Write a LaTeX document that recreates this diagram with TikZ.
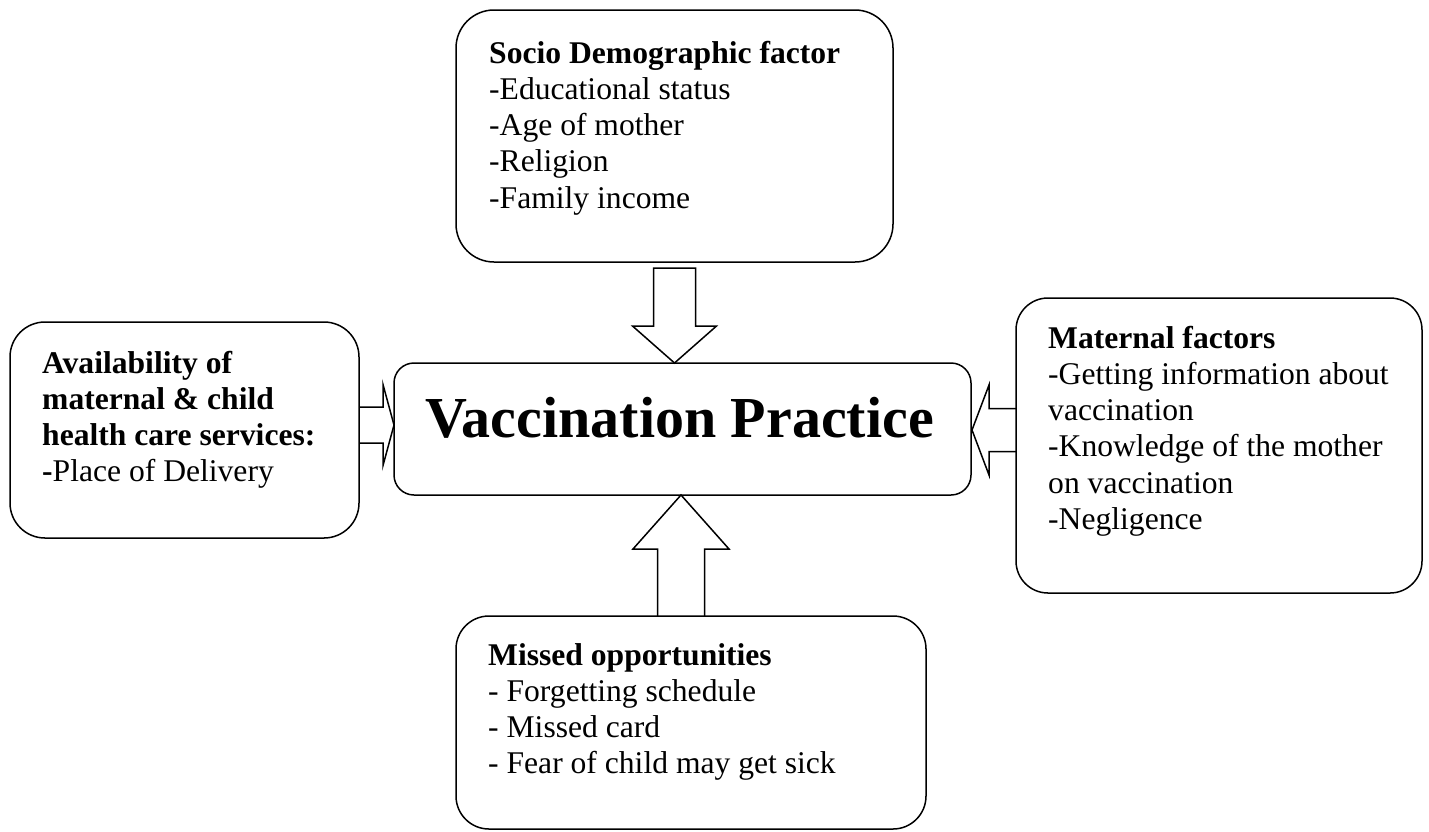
\documentclass[tikz,border=0pt]{standalone}
\usepackage{fontspec}
\setmainfont{Liberation Serif}
\usetikzlibrary{calc}
\tikzset{
  box/.style={draw, line width=1.5pt, rounded corners=#1, inner sep=0pt, outer sep=0pt},
  box/.default=35pt,
  txt/.style={anchor=base west, inner sep=0pt, font=\fontsize{31.6}{36.3}\selectfont},
  barrow/.style={draw, line width=1.5pt, line join=miter}
}
\begin{document}
\begin{tikzpicture}[x=1pt, y=-1pt]
\useasboundingbox (0,0) rectangle (1429,831);
\clip (0,0) rectangle (1429,831);
\fill[white] (0,0) rectangle (1429,831);

% boxes
\node[box=38pt, minimum width=437pt, minimum height=252pt] (socio) at (674.5,136) {};
\node[box=20pt, minimum width=577pt, minimum height=132pt,
      font=\bfseries\fontsize{58}{60}\selectfont, text depth=23.5pt] (vp) at (682.5,429) {Vaccination Practice\hspace*{6pt}};
\node[box=35pt, minimum width=349pt, minimum height=216pt] (avail) at (184.5,430) {};
\node[box=32pt, minimum width=406pt, minimum height=295pt] (maternal) at (1219,445.5) {};
\node[box=33pt, minimum width=470pt, minimum height=213pt] (missed) at (691,722.5) {};

% texts
\node[txt] (sociotext) at (489,63) {\begin{tabular}[t]{@{}l@{}}\textbf{Socio Demographic factor}\\-Educational status\\-Age of mother\\-Religion\\-Family income\end{tabular}};
\node[txt] (availtext) at (42,373) {\begin{tabular}[t]{@{}l@{}}\textbf{Availability of}\\\textbf{maternal \& child}\\\textbf{health care services:}\\\textbf{-}Place of Delivery\end{tabular}};
\node[txt] (maternaltext) at (1048,348) {\begin{tabular}[t]{@{}l@{}}\textbf{Maternal factors}\\-Getting information about\\vaccination\\-Knowledge of the mother\\on vaccination\\-Negligence\end{tabular}};
\node[txt] (missedtext) at (488,665) {\begin{tabular}[t]{@{}l@{}}\textbf{Missed opportunities}\\- Forgetting schedule\\- Missed card\\- Fear of child may get sick\end{tabular}};

% block arrows
% down: socio -> vp
\draw[barrow] ($(socio.south)+(-21,6)$) -- ($(socio.south)+(21,6)$) -- ($(socio.south)+(21,64)$)
  -- ($(socio.south)+(42,64)$) -- (socio.south |- vp.north) -- ($(socio.south)+(-42,64)$)
  -- ($(socio.south)+(-21,64)$) -- cycle;
% up: missed -> vp
\coordinate (tipU) at ($(vp.south)+(-1.5,0)$);
\draw[barrow] ($(tipU |- missed.north)+(-23.5,0)$) -- ($(tipU)+(-23.5,54)$) -- ($(tipU)+(-48,54)$)
  -- (tipU) -- ($(tipU)+(48,54)$) -- ($(tipU)+(23.5,54)$) -- ($(tipU |- missed.north)+(23.5,0)$);
% right-pointing: avail -> vp
\coordinate (tipL) at ($(vp.west)+(0,-4)$);
\draw[barrow] ($(avail.east |- tipL)+(0,-18)$) -- ($(tipL)+(-11,-18)$) -- ($(tipL)+(-11,-40.5)$)
  -- (tipL) -- ($(tipL)+(-11,40.5)$) -- ($(tipL)+(-11,18)$) -- ($(avail.east |- tipL)+(0,18)$);
% left-pointing: maternal -> vp
\coordinate (tipR) at ($(vp.east)+(1,1)$);
\draw[barrow] ($(maternal.west |- tipR)+(0,-21.5)$) -- ($(tipR)+(17,-21.5)$) -- ($(tipR)+(17,-45)$)
  -- (tipR) -- ($(tipR)+(17,45)$) -- ($(tipR)+(17,21.5)$) -- ($(maternal.west |- tipR)+(0,21.5)$);
\end{tikzpicture}
\end{document}
